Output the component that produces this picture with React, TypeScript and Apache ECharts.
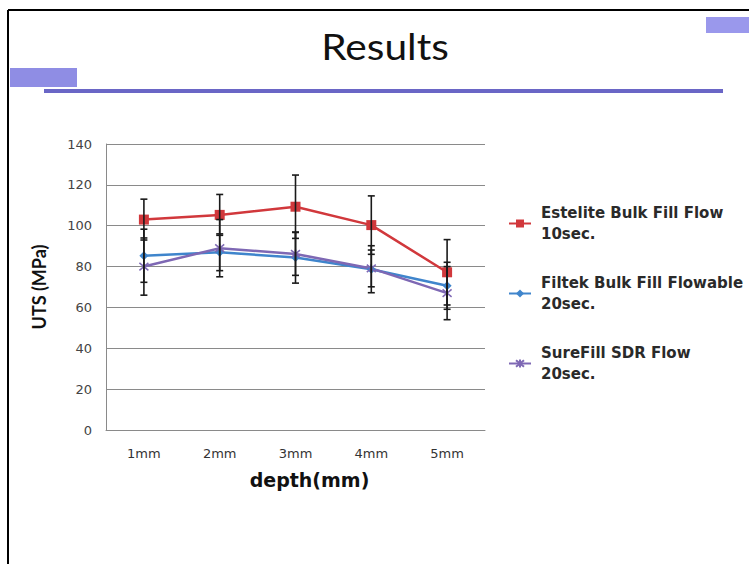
import React, { useEffect, useRef } from "react";
import * as echarts from "echarts";

const categories = ["1mm", "2mm", "3mm", "4mm", "5mm"];
const seriesNames = [
  "Estelite Bulk Fill Flow\n10sec.",
  "Filtek Bulk Fill Flowable\n20sec.",
  "SureFill SDR Flow\n20sec.",
];
const estelite = [103, 105.3, 109.3, 100.3, 77.2];
const esteliteErr = [10, 10, 15.5, 14.3, 16];
const filtek = [85.3, 87, 84.4, 78.7, 70.6];
const filtekErr = [13, 9, 12.5, 11.5, 11.5];
const surefill = [80, 89, 86.2, 79.1, 67];
const surefillErr = [14, 14, 10.5, 9, 13];
const yMin = 0;
const yMax = 140;
const yStep = 20;

const COLORS = ["#d1383c", "#3f85cc", "#7e68b4"];
const GRID = "#8a8a8a";

function errorSeries(values: number[], errs: number[]) {
  return {
    type: "custom",
    silent: true,
    z: 10,
    encode: { x: 0, y: [1, 2] },
    data: values.map((v, i) => [i, v - errs[i], v + errs[i]]),
    renderItem: (params: any, api: any) => {
      const x = api.value(0);
      const lo = api.coord([x, api.value(1)]);
      const hi = api.coord([x, api.value(2)]);
      const hw = 3.5;
      const style = { stroke: "#1a1a1a", lineWidth: 1.6 };
      return {
        type: "group",
        children: [
          { type: "line", shape: { x1: lo[0], y1: lo[1], x2: hi[0], y2: hi[1] }, style },
          { type: "line", shape: { x1: lo[0] - hw, y1: lo[1], x2: lo[0] + hw, y2: lo[1] }, style },
          { type: "line", shape: { x1: hi[0] - hw, y1: hi[1], x2: hi[0] + hw, y2: hi[1] }, style },
        ],
      };
    },
  };
}

export default function App() {
  const ref = useRef<HTMLDivElement>(null);
  useEffect(() => {
    if (!ref.current) return;
    const chart = echarts.init(ref.current, null, { renderer: "svg" });
    const starPath = "path://M0,0L10,10M10,0L0,10M5,-1L5,11";
    chart.setOption({
      animation: false,
      backgroundColor: "#ffffff",
      graphic: [
        { type: "line", shape: { x1: 8, y1: 10, x2: 749, y2: 10 }, style: { stroke: "#000", lineWidth: 2 } },
        { type: "line", shape: { x1: 8, y1: 10, x2: 8, y2: 564 }, style: { stroke: "#000", lineWidth: 2 } },
        { type: "rect", shape: { x: 706, y: 17, width: 43, height: 16 }, style: { fill: "#9a98ec" } },
        { type: "rect", shape: { x: 10, y: 68, width: 67, height: 19 }, style: { fill: "#8f8de4" } },
        { type: "rect", shape: { x: 44, y: 89, width: 679, height: 4 }, style: { fill: "#6a66c6" } },
        {
          type: "text",
          x: 385,
          y: 46,
          scaleX: 1.13,
          style: {
            text: "Results",
            font: "36px Lato",
            fill: "#111",
            align: "center",
            verticalAlign: "middle",
          },
        },
      ],
      grid: { left: 106, top: 144, width: 379, height: 286 },
      legend: {
        data: seriesNames,
        orient: "vertical",
        left: 503,
        top: 187,
        itemWidth: 22,
        itemHeight: 10,
        itemGap: 7,
        textStyle: {
          fontFamily: "DejaVu Sans",
          fontWeight: "bold",
          fontSize: 15,
          color: "#2a2a2a",
          lineHeight: 21,
          padding: [21, 0, 0, 5],
        },
      },
      xAxis: {
        type: "category",
        data: categories,
        boundaryGap: true,
        axisLine: { lineStyle: { color: GRID, width: 1 } },
        axisTick: { show: false },
        axisLabel: { fontFamily: "DejaVu Sans", fontSize: 13, color: "#333", margin: 17 },
        name: "depth(mm)",
        nameLocation: "middle",
        nameGap: 40,
        nameTextStyle: {
          fontFamily: "DejaVu Sans",
          fontWeight: "bold",
          fontSize: 19,
          color: "#111",
          padding: [0, 0, 0, 28],
        },
      },
      yAxis: {
        type: "value",
        min: yMin,
        max: yMax,
        interval: yStep,
        axisLine: { show: true, lineStyle: { color: GRID, width: 1 } },
        axisTick: { show: false },
        splitLine: { lineStyle: { color: GRID, width: 1 } },
        axisLabel: { fontFamily: "DejaVu Sans", fontSize: 13, color: "#444", margin: 14 },
        name: "UTS (MPa)",
        nameLocation: "middle",
        nameGap: 58,
        nameRotate: 90,
        nameTextStyle: { fontFamily: "Lato", fontWeight: "bold", fontSize: 18, color: "#111" },
      },
      series: [
        {
          name: seriesNames[0],
          type: "line",
          data: estelite,
          color: COLORS[0],
          symbol: "rect",
          symbolSize: 10,
          lineStyle: { width: 2.5 },
          z: 3,
        },
        {
          name: seriesNames[1],
          type: "line",
          data: filtek,
          color: COLORS[1],
          symbol: "diamond",
          symbolSize: 9,
          lineStyle: { width: 2.5 },
          z: 3,
        },
        {
          name: seriesNames[2],
          type: "line",
          data: surefill,
          color: COLORS[2],
          symbol: starPath,
          symbolSize: 9,
          itemStyle: { borderColor: COLORS[2], borderWidth: 1.5 },
          lineStyle: { width: 2.5 },
          z: 3,
        },
        errorSeries(estelite, esteliteErr),
        errorSeries(filtek, filtekErr),
        errorSeries(surefill, surefillErr),
      ],
    });
    return () => chart.dispose();
  }, []);
  return (
    <div
      ref={ref}
      style={{ position: "fixed", left: 0, top: 0, width: 749, height: 564, background: "#fff" }}
    />
  );
}
